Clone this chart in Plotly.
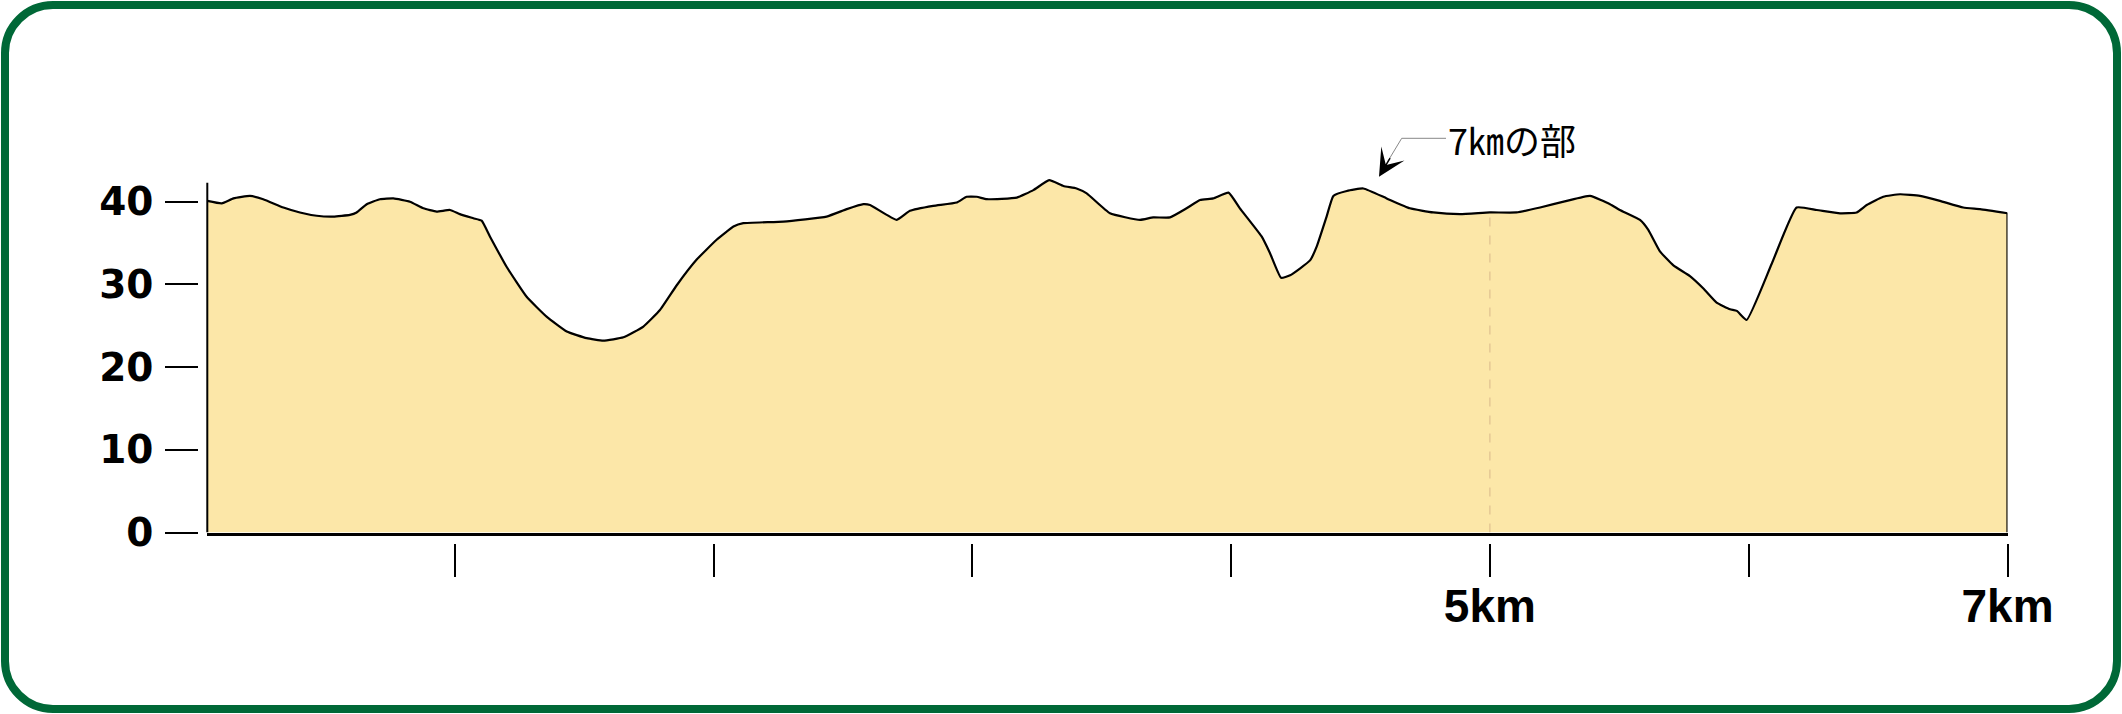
import plotly.graph_objects as go

# elevation profile of the 7 km course (distance in km, height in m)
km = [0.044, 0.10, 0.145, 0.209, 0.26, 0.338, 0.402, 0.467, 0.531, 0.595,
      0.621, 0.66, 0.711, 0.763, 0.827, 0.879, 0.93, 0.982, 1.02, 1.072,
      1.104, 1.136, 1.201, 1.278, 1.355, 1.433, 1.51, 1.574, 1.652, 1.729,
      1.793, 1.858, 1.935, 2.012, 2.077, 2.115, 2.27, 2.437, 2.515, 2.579,
      2.605, 2.708, 2.759, 2.849, 2.94, 2.978, 3.017, 3.056, 3.172, 3.236,
      3.297, 3.352, 3.403, 3.442, 3.532, 3.648, 3.699, 3.764, 3.828, 3.88,
      3.931, 3.99, 4.034, 4.118, 4.15, 4.193, 4.228, 4.305, 4.331, 4.369,
      4.395, 4.447, 4.511, 4.601, 4.691, 4.781, 4.885, 5.0, 5.103, 5.194,
      5.297, 5.387, 5.464, 5.502, 5.58, 5.612, 5.657, 5.709, 5.773, 5.825,
      5.876, 5.928, 5.954, 5.992, 6.089, 6.185, 6.263, 6.353, 6.417, 6.456,
      6.52, 6.585, 6.662, 6.739, 6.829, 6.894, 7.0]
elev = [40.1, 39.8, 40.4, 40.7, 40.3, 39.3, 38.7, 38.3, 38.2, 38.4,
        38.7, 39.7, 40.3, 40.4, 40.0, 39.2, 38.8, 39.0, 38.5, 38.0,
        37.7, 35.8, 32.1, 28.5, 26.1, 24.3, 23.5, 23.2, 23.6, 24.9,
        26.9, 29.9, 33.0, 35.4, 37.0, 37.4, 37.6, 38.2, 39.1, 39.7,
        39.6, 37.8, 38.9, 39.5, 39.9, 40.6, 40.6, 40.3, 40.5, 41.4,
        42.6, 41.9, 41.6, 41.0, 38.6, 37.8, 38.1, 38.1, 39.2, 40.2,
        40.4, 41.1, 39.2, 35.8, 33.8, 30.8, 31.1, 32.9, 34.6, 38.2,
        40.7, 41.3, 41.6, 40.4, 39.2, 38.7, 38.5, 38.7, 38.7, 39.3,
        40.1, 40.7, 39.7, 39.0, 37.8, 36.6, 34.0, 32.3, 31.0, 29.5,
        27.8, 27.0, 26.8, 25.7, 32.5, 39.3, 39.0, 38.6, 38.7, 39.6,
        40.6, 40.9, 40.7, 40.1, 39.3, 39.1, 38.6]

y_ticks = [0, 10, 20, 30, 40]
x_ticks = [1, 2, 3, 4, 5, 6, 7]
x_labels = ["", "", "", "", "5km", "", "7km"]
marker_km = 5
note_text = "7㎞の部"

W, H = 2122, 714
GREEN = "#006837"
FILL = "#FCE7A8"


def px(x):
    return x / W


def py(y):
    return 1 - y / H


fig = go.Figure()

# profile
fig.add_trace(go.Scatter(
    x=km, y=elev,
    mode="lines",
    line=dict(color="black", width=2.2, shape="spline", smoothing=0.4),
    fill="tozeroy", fillcolor=FILL,
    hoverinfo="skip",
))

# closing edge at the finish
fig.add_trace(go.Scatter(
    x=[km[-1], km[-1]], y=[elev[-1], 0],
    mode="lines", line=dict(color="black", width=2.2),
    hoverinfo="skip",
))

# dashed marker at 5 km
fig.add_trace(go.Scatter(
    x=[marker_km, marker_km], y=[0, elev[km.index(marker_km)] - 0.3],
    xaxis="x2", mode="lines",
    line=dict(color="#D9B98A", width=1, dash="dash"),
    hoverinfo="skip",
))

# rounded green frame
r = 48
k = 0.5523
x0, x1 = px(5), px(W - 5)
yb, yt = py(H - 5), py(5)
rx, ry = px(r), r / H
frame = (
    f"M {x0+rx},{yt} L {x1-rx},{yt} "
    f"C {x1-rx*(1-k)},{yt} {x1},{yt-ry*(1-k)} {x1},{yt-ry} "
    f"L {x1},{yb+ry} "
    f"C {x1},{yb+ry*(1-k)} {x1-rx*(1-k)},{yb} {x1-rx},{yb} "
    f"L {x0+rx},{yb} "
    f"C {x0+rx*(1-k)},{yb} {x0},{yb+ry*(1-k)} {x0},{yb+ry} "
    f"L {x0},{yt-ry} "
    f"C {x0},{yt-ry*(1-k)} {x0+rx*(1-k)},{yt} {x0+rx},{yt} Z"
)

shapes = [
    dict(type="path", path=frame, xref="paper", yref="paper",
         line=dict(color=GREEN, width=8), layer="above"),
    # y axis line (sits slightly right of the tick marks)
    dict(type="line", xref="x domain", yref="y", x0=0, x1=0, y0=0, y1=42.3,
         line=dict(color="black", width=2)),
    # leader line of the note
    dict(type="path", xref="paper", yref="paper",
         path=f"M {px(1446)},{py(138.3)} L {px(1401.7)},{py(138.3)} L {px(1388)},{py(161)}",
         line=dict(color="#888888", width=1)),
]

annotations = [
    dict(text=note_text, xref="paper", yref="paper", x=px(1446), y=py(139),
         xanchor="left", yanchor="middle", showarrow=False,
         font=dict(family="Noto Sans CJK JP", size=36, color="black")),
    dict(text="", xref="paper", yref="paper", x=px(1379), y=py(176.7),
         showarrow=True, arrowhead=3, arrowsize=3, arrowwidth=1.5,
         arrowcolor="black", ax=12, ay=-20),
]

x_dom = [px(207.3), px(2007.5)]
fig.update_layout(
    width=W, height=H,
    margin=dict(l=0, r=0, t=0, b=0),
    paper_bgcolor="white", plot_bgcolor="white",
    showlegend=False,
    xaxis=dict(domain=x_dom, range=[0.044, 7], anchor="y",
               showline=True, linecolor="black", linewidth=2.5,
               showgrid=False, zeroline=False, ticks="", showticklabels=False,
               automargin=False, fixedrange=True),
    xaxis2=dict(overlaying="x", anchor="free", position=py(542.7),
                range=[0.044, 7], tickmode="array", tickvals=x_ticks, ticktext=x_labels,
                ticks="outside", ticklen=33, tickwidth=2, tickcolor="black",
                showline=False, showgrid=False, zeroline=False,
                ticklabelstandoff=-10,
                tickfont=dict(family="Liberation Sans", size=46, color="black", weight="bold"),
                automargin=False, fixedrange=True),
    yaxis=dict(domain=[py(532.5), py(532.5 - 44 * 8.27)], range=[0, 44],
               anchor="free", position=px(198.3),
               tickmode="array", tickvals=y_ticks, ticktext=[str(v) for v in y_ticks],
               ticks="outside", ticklen=33, tickwidth=2, tickcolor="black",
               showline=False, showgrid=False, zeroline=False,
               ticklabelstandoff=4,
               tickfont=dict(family="DejaVu Sans", size=39, color="black", weight="bold"),
               automargin=False, fixedrange=True),
    shapes=shapes,
    annotations=annotations,
)

fig.write_html("out.html", config={"displayModeBar": False},
               post_script="document.body.style.margin='0';document.body.style.overflow='hidden';")
